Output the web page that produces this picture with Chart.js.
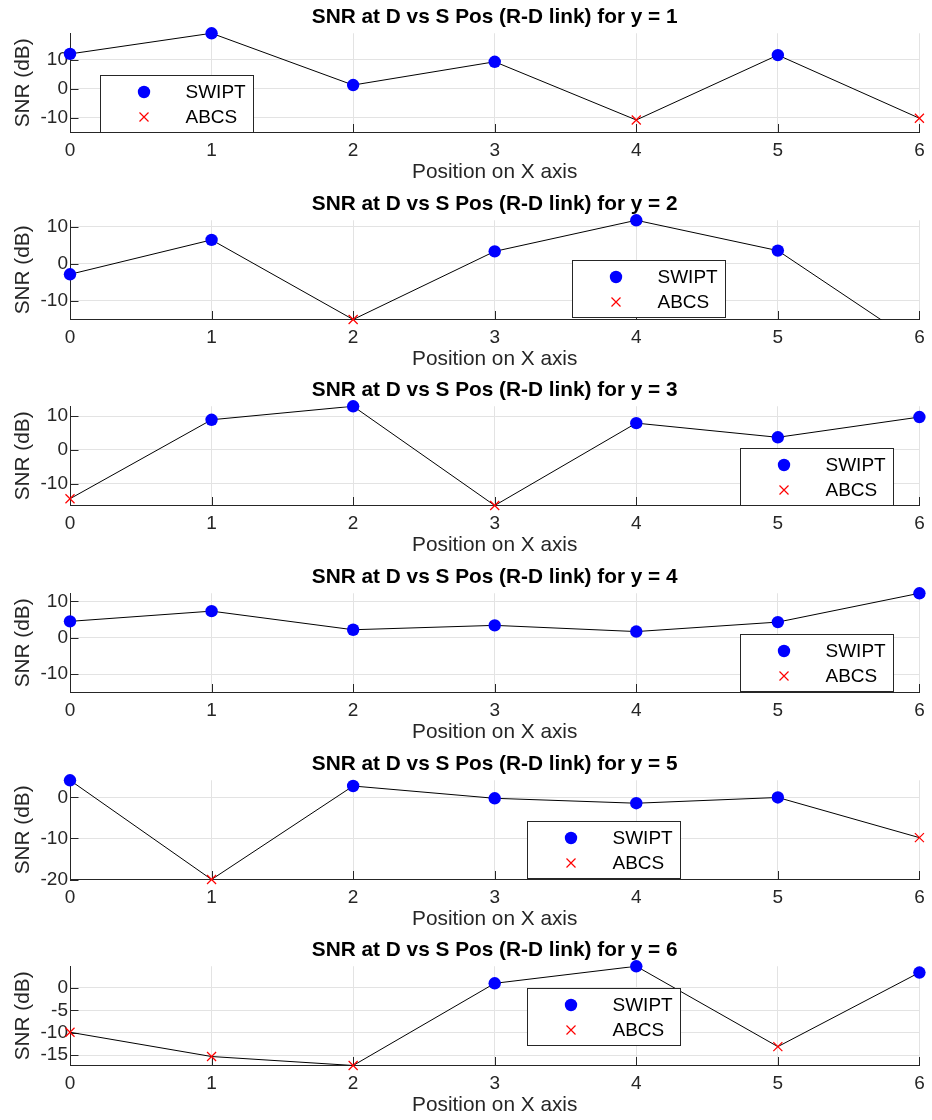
<!DOCTYPE html>
<html>
<head>
  <script src="https://cdn.jsdelivr.net/npm/chart.js"></script>
  <style>
    body { margin: 0; background: #fff; }
    #wrap { position: relative; width: 932px; height: 1120px; }
    #wrap canvas { position: absolute; left: 0; }
  </style>
</head>
<body>
  <div id="wrap"></div>
  <script>
    // positions on the X axis, and the y row each subplot is for
    const xPos = [0, 1, 2, 3, 4, 5, 6];
    const yRows = [1, 2, 3, 4, 5, 6];

    // SNR at D (dB)
    const snrY1 = [12.0, 19.1, 1.3, 9.3, -10.7, 11.6, -10.1];
    const snrY2 = [-2.8, 6.5, -15.0, 3.4, 11.8, 3.6, -22.0];
    const snrY3 = [-14.5, 8.9, 12.9, -16.5, 7.9, 3.7, 9.7];
    const snrY4 = [4.5, 7.3, 2.2, 3.4, 1.7, 4.3, 12.2];
    const snrY5 = [4.2, -20.0, 2.8, -0.2, -1.4, 0.0, -9.8];
    const snrY6 = [-9.9, -15.3, -17.3, 1.0, 4.8, -13.1, 3.4];

    // scheme used at each position: S = SWIPT, A = ABCS
    const modeY1 = ['S', 'S', 'S', 'S', 'A', 'S', 'A'];
    const modeY2 = ['S', 'S', 'A', 'S', 'S', 'S', 'A'];
    const modeY3 = ['A', 'S', 'S', 'A', 'S', 'S', 'S'];
    const modeY4 = ['S', 'S', 'S', 'S', 'S', 'S', 'S'];
    const modeY5 = ['S', 'A', 'S', 'S', 'S', 'S', 'A'];
    const modeY6 = ['A', 'A', 'A', 'S', 'S', 'A', 'S'];

    // y limits and tick labels of each subplot
    const yMin = [-15, -15, -16.5, -15, -20, -17.3];
    const yMax = [19.1, 11.8, 12.9, 12.2, 4.2, 4.8];
    const yTicks = [
      [-10, 0, 10], [-10, 0, 10], [-10, 0, 10],
      [-10, 0, 10], [-20, -10, 0], [-15, -10, -5, 0]
    ];

    const snr = [snrY1, snrY2, snrY3, snrY4, snrY5, snrY6];
    const mode = [modeY1, modeY2, modeY3, modeY4, modeY5, modeY6];

    // layout only
    const rowTop = [0, 187, 373, 560, 747, 933];
    const legendAt = [
      {left: 100, top: 75}, {left: 572, top: 72.5}, {left: 740, top: 75.3},
      {left: 740, top: 74}, {left: 527.3, top: 73.7}, {left: 527.3, top: 54.7}
    ];

    const axisGray = '#262626';
    const gridGray = '#e3e3e3';
    Chart.defaults.font.family = '"Liberation Sans", Arial, Helvetica, sans-serif';

    function drawCircle(ctx, x, y) {
      ctx.fillStyle = '#0000ff';
      ctx.beginPath();
      ctx.arc(x, y, 6.2, 0, Math.PI * 2);
      ctx.fill();
    }
    function drawCross(ctx, x, y) {
      const h = 4.5;
      ctx.strokeStyle = '#ff0000';
      ctx.lineWidth = 1.2;
      ctx.beginPath();
      ctx.moveTo(x - h, y - h); ctx.lineTo(x + h, y + h);
      ctx.moveTo(x - h, y + h); ctx.lineTo(x + h, y - h);
      ctx.stroke();
    }

    // matlab style ticks pointing into the axes
    const innerTicks = {
      id: 'innerTicks',
      beforeDatasetsDraw(chart) {
        const {ctx, chartArea: a, scales: {x, y}} = chart;
        ctx.save();
        ctx.strokeStyle = axisGray;
        ctx.lineWidth = 1;
        ctx.beginPath();
        x.ticks.forEach(t => {
          const px = Math.round(x.getPixelForValue(t.value)) + 0.5;
          ctx.moveTo(px, a.bottom);
          ctx.lineTo(px, a.bottom - 8.5);
        });
        y.ticks.forEach(t => {
          const py = Math.round(y.getPixelForValue(t.value)) + 0.5;
          ctx.moveTo(a.left, py);
          ctx.lineTo(a.left + 8.5, py);
        });
        ctx.stroke();
        ctx.restore();
      }
    };

    // boxed legend placed inside the axes like matlab's 'best'
    const boxLegend = {
      id: 'boxLegend',
      afterDraw(chart, args, opts) {
        const ctx = chart.ctx;
        const l = Math.round(opts.left) + 0.5, t = Math.round(opts.top) + 0.5;
        const w = 153, h = 57;
        ctx.save();
        ctx.fillStyle = '#fff';
        ctx.fillRect(l, t, w, h);
        ctx.strokeStyle = axisGray;
        ctx.lineWidth = 1;
        ctx.strokeRect(l, t, w, h);
        drawCircle(ctx, l + 43.5, t + 16.5);
        drawCross(ctx, l + 43.5, t + 41.5);
        ctx.fillStyle = '#000';
        ctx.font = '19px "Liberation Sans", Arial, sans-serif';
        ctx.textBaseline = 'middle';
        ctx.fillText('SWIPT', l + 85, t + 17.5);
        ctx.fillText('ABCS', l + 85, t + 42);
        ctx.restore();
      }
    };

    const wrap = document.getElementById('wrap');

    yRows.forEach((row, i) => {
      const canvas = document.createElement('canvas');
      canvas.width = 932;
      canvas.height = 187;
      canvas.style.top = rowTop[i] + 'px';
      wrap.appendChild(canvas);

      const vals = snr[i];
      const linePts = xPos.map((x, k) => ({x: x, y: vals[k]}));
      const swiptPts = linePts.filter((p, k) => mode[i][k] === 'S');
      const abcsPts = linePts.filter((p, k) => mode[i][k] === 'A');

      new Chart(canvas, {
        type: 'line',
        data: {
          datasets: [
            {
              label: 'SWIPT',
              data: swiptPts,
              showLine: false,
              pointStyle: 'circle',
              pointRadius: 6.2,
              pointBorderWidth: 0,
              pointBackgroundColor: '#0000ff',
              pointBorderColor: '#0000ff',
              clip: false,
              order: 1
            },
            {
              label: 'ABCS',
              data: abcsPts,
              showLine: false,
              pointStyle: 'crossRot',
              pointRadius: 6.4,
              pointBorderWidth: 1.2,
              pointBorderColor: '#ff0000',
              clip: false,
              order: 2
            },
            {
              label: 'path',
              data: linePts,
              borderColor: '#000',
              borderWidth: 1,
              pointRadius: 0,
              tension: 0,
              fill: false,
              order: 3
            }
          ]
        },
        options: {
          responsive: false,
          animation: false,
          events: [],
          layout: { padding: { left: 0, right: 9, top: 0, bottom: 0.5 } },
          plugins: {
            legend: { display: false },
            tooltip: { enabled: false },
            title: {
              display: true,
              text: 'SNR at D vs S Pos (R-D link) for y = ' + row,
              fullSize: false,
              color: '#000',
              font: { size: 20.8, weight: 'bold' },
              padding: { top: 5.2, bottom: 3.1 }
            },
            boxLegend: legendAt[i]
          },
          scales: {
            x: {
              type: 'linear',
              min: xPos[0],
              max: xPos[xPos.length - 1],
              afterBuildTicks: s => { s.ticks = xPos.map(v => ({value: v})); },
              afterFit: s => { s.height = 54; },
              ticks: { color: axisGray, font: { size: 19 }, padding: 7.3, maxRotation: 0, autoSkip: false },
              grid: { color: gridGray, drawTicks: false },
              border: { color: axisGray, width: 1 },
              title: {
                display: true,
                text: 'Position on X axis',
                color: axisGray,
                font: { size: 20.8 },
                padding: { top: 0, bottom: 1.5 }
              }
            },
            y: {
              min: yMin[i],
              max: yMax[i],
              afterBuildTicks: s => { s.ticks = yTicks[i].map(v => ({value: v})); },
              afterFit: s => { s.width = 70; },
              ticks: { color: axisGray, font: { size: 19 }, padding: 2 },
              grid: { color: gridGray, drawTicks: false },
              border: { color: axisGray, width: 1 },
              title: {
                display: true,
                text: 'SNR (dB)',
                color: axisGray,
                font: { size: 20.8 },
                padding: { top: 11, bottom: 0 }
              }
            }
          }
        },
        plugins: [innerTicks, boxLegend]
      });
    });
  </script>
</body>
</html>
